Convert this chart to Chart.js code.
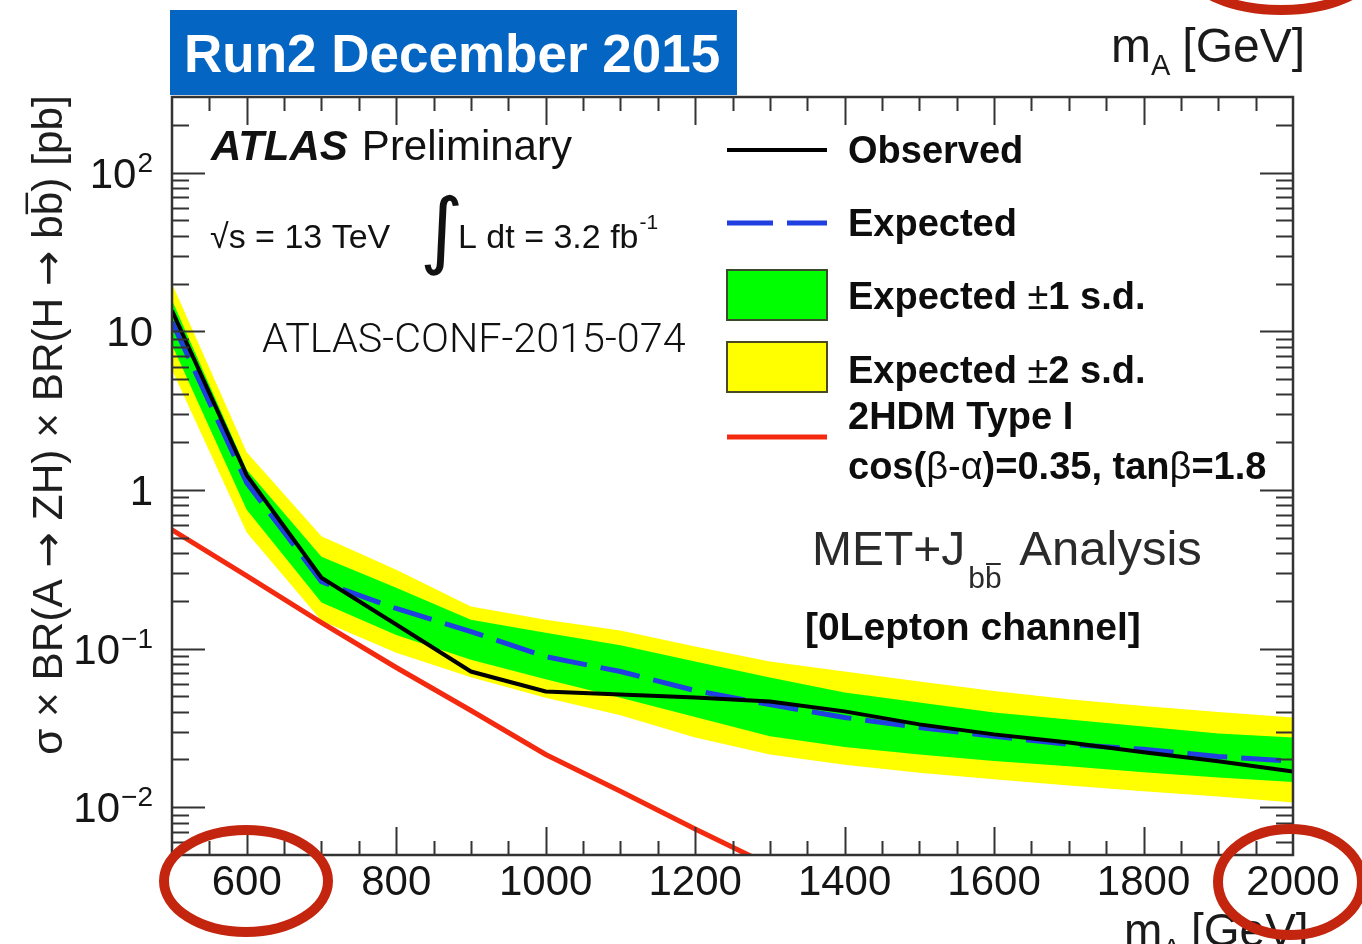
<!DOCTYPE html>
<html>
<head>
<meta charset="utf-8">
<script src="https://cdn.jsdelivr.net/npm/chart.js@4.4.1/dist/chart.umd.min.js"></script>
<style>
  html, body { margin: 0; padding: 0; background: #ffffff; overflow: hidden; }
  canvas { display: block; }
</style>
</head>
<body>
<canvas id="limitChart" width="1362" height="944"></canvas>
<script>
// Mass points of the A boson (GeV) and the 95% CL limits on sigma x BR (pb)
const massPoints    = [500, 600, 700, 800, 900, 1000, 1100, 1200, 1300, 1400, 1500, 1600, 1700, 1800, 1900, 2000];
const observedLimit = [13.5, 1.24, 0.28, 0.142, 0.0717, 0.0537, 0.0514, 0.0492, 0.0464, 0.0402, 0.0333, 0.0288, 0.0256, 0.0222, 0.0195, 0.0168];
const expectedLimit = [11.5, 1.11, 0.264, 0.179, 0.128, 0.089, 0.0717, 0.0544, 0.0444, 0.0368, 0.0318, 0.0280, 0.0249, 0.0232, 0.0209, 0.0195];
const plus1Sigma    = [15.7, 1.34, 0.38, 0.242, 0.152, 0.126, 0.105, 0.083, 0.0657, 0.0529, 0.0457, 0.0396, 0.0357, 0.0323, 0.0292, 0.0275];
const minus1Sigma   = [8.2, 0.75, 0.195, 0.122, 0.085, 0.064, 0.049, 0.037, 0.028, 0.0240, 0.0215, 0.0196, 0.0181, 0.0166, 0.0154, 0.0144];
const plus2Sigma    = [20.0, 1.73, 0.51, 0.314, 0.184, 0.152, 0.130, 0.103, 0.0828, 0.0717, 0.062, 0.054, 0.048, 0.0435, 0.0398, 0.0368];
const minus2Sigma   = [5.7, 0.54, 0.15, 0.094, 0.066, 0.049, 0.038, 0.0275, 0.0215, 0.0185, 0.0165, 0.0150, 0.0137, 0.0126, 0.0117, 0.0107];

// 2HDM Type I prediction, cos(beta-alpha)=0.35, tan(beta)=1.8
const modelMass = [500, 600, 700, 800, 900, 1000, 1100, 1200, 1300];
const modelXsec = [0.56, 0.287, 0.146, 0.076, 0.0407, 0.0215, 0.0126, 0.0073, 0.0043];

// Axis ticks and labels
const xTickValues = [600, 800, 1000, 1200, 1400, 1600, 1800, 2000];
const yTickValues = [0.01, 0.1, 1, 10, 100];
const yTickBase   = ['10', '10', '1', '10', '10'];
const yTickPower  = ['\u22122', '\u22121', '', '', '2'];

const SANS = '"Liberation Sans", Arial, Helvetica, sans-serif';
const ARROW = '"DejaVu Sans", sans-serif';
const C = { obs: '#000000', exp: '#1f3fe0', green: '#00ff00', yellow: '#ffff00', model: '#f32a10', ring: '#c3250e' };

const pts = (xs, ys) => ys.map((v, i) => ({ x: xs[i], y: v }));

// Draw a sequence of text runs with different fonts on one baseline
function runs(ctx, x, y, parts, dry) {
  let cx = x;
  for (const p of parts) {
    ctx.font = p.f;
    if (!dry) ctx.fillText(p.t, cx, y + (p.dy || 0));
    cx += ctx.measureText(p.t).width + (p.gap || 0);
  }
  return cx;
}

const decorations = {
  id: 'decorations',
  afterDatasetsDraw(chart) {
    const { ctx, chartArea: a, scales: { x, y } } = chart;
    ctx.save();
    // inner tick marks on all four sides
    ctx.strokeStyle = '#333333';
    ctx.lineWidth = 2;
    ctx.beginPath();
    for (let m = x.min + 50; m < x.max; m += 50) {
      const px = Math.round(x.getPixelForValue(m)) + 0.5;
      const len = (m % 200 === 0) ? 28 : 14;
      ctx.moveTo(px, a.bottom); ctx.lineTo(px, a.bottom - len);
      ctx.moveTo(px, a.top); ctx.lineTo(px, a.top + len);
    }
    for (let d = -3; d <= 2; d++) {
      for (let k = 1; k <= 9; k++) {
        const v = k * Math.pow(10, d);
        if (v <= y.min || v >= y.max) continue;
        const py = Math.round(y.getPixelForValue(v)) + 0.5;
        const len = (k === 1) ? 33 : 17;
        ctx.moveTo(a.left, py); ctx.lineTo(a.left + len, py);
        ctx.moveTo(a.right, py); ctx.lineTo(a.right - len, py);
      }
    }
    ctx.stroke();
    // frame
    ctx.lineWidth = 2.5;
    ctx.strokeRect(a.left, a.top, a.right - a.left, a.bottom - a.top);

    // y tick labels with exponents
    ctx.fillStyle = '#151515';
    ctx.textBaseline = 'alphabetic';
    ctx.textAlign = 'left';
    yTickValues.forEach((v, i) => {
      const py = y.getPixelForValue(v);
      ctx.font = '42px ' + SANS;
      const wb = ctx.measureText(yTickBase[i]).width;
      ctx.font = '28px ' + SANS;
      const wp = yTickPower[i] ? ctx.measureText(yTickPower[i]).width + 1 : 0;
      const x0 = 153 - wb - wp;
      ctx.font = '42px ' + SANS;
      ctx.fillText(yTickBase[i], x0, py + 15);
      if (yTickPower[i]) {
        ctx.font = '28px ' + SANS;
        ctx.fillText(yTickPower[i], x0 + wb + 1, py - 1);
      }
    });
    ctx.restore();
  },
  afterDraw(chart) {
    const { ctx } = chart;
    ctx.save();
    ctx.textBaseline = 'alphabetic';
    ctx.textAlign = 'left';

    // run label box
    ctx.fillStyle = '#0565c2';
    ctx.fillRect(170, 10, 567, 85);
    ctx.fillStyle = '#ffffff';
    ctx.font = 'bold 53px ' + SANS;
    ctx.fillText('Run2 December 2015', 184, 72);

    // axis title above the frame (top right)
    ctx.fillStyle = '#1a1a1a';
    let e = runs(ctx, 1111, 62, [{ t: 'm', f: '48px ' + SANS }]);
    e = runs(ctx, e, 75, [{ t: 'A', f: '29px ' + SANS }]);
    runs(ctx, e + 12, 62, [{ t: '[GeV]', f: '48px ' + SANS }]);

    // x axis title (bottom right)
    e = runs(ctx, 1124, 946, [{ t: 'm', f: '46px ' + SANS }]);
    e = runs(ctx, e, 958, [{ t: 'A', f: '28px ' + SANS }]);
    runs(ctx, e + 10, 946, [{ t: '[GeV]', f: '46px ' + SANS }]);

    // y axis title, rotated, with b-bar
    ctx.save();
    ctx.translate(62, 425);
    ctx.rotate(-Math.PI / 2);
    ctx.fillStyle = '#1e1e1e';
    const titleParts = fs => [
      { t: '\u03c3 \u00d7 BR(A ', f: fs + 'px ' + SANS },
      { t: '\u2192', f: fs + 'px ' + ARROW },
      { t: ' ZH) \u00d7 BR(H ', f: fs + 'px ' + SANS },
      { t: '\u2192', f: fs + 'px ' + ARROW },
      { t: ' b', f: fs + 'px ' + SANS }
    ];
    let fs = 38;
    ctx.font = fs + 'px ' + SANS;
    const tail = 'b) [pb]';
    let wHead = runs(ctx, 0, 0, titleParts(fs), true);
    ctx.font = fs + 'px ' + SANS;
    let total = wHead + ctx.measureText(tail).width;
    fs = fs * 660 / total;
    const parts = titleParts(fs);
    ctx.font = fs + 'px ' + SANS;
    const wTail = ctx.measureText(tail).width;
    const wb = ctx.measureText('b').width;
    wHead = runs(ctx, 0, 0, parts, true);
    const sx = -(wHead + wTail) / 2;
    const eHead = runs(ctx, sx, 0, parts);
    ctx.font = fs + 'px ' + SANS;
    ctx.fillText(tail, eHead, 0);
    ctx.fillRect(eHead + 1, -fs * 0.86, wb - 2, 2.5);
    ctx.restore();

    // ATLAS label and run conditions
    ctx.fillStyle = '#111111';
    runs(ctx, 211, 160, [
      { t: 'ATLAS', f: 'italic bold 42px ' + SANS, gap: 14 },
      { t: 'Preliminary', f: '42px ' + SANS }
    ]);
    ctx.font = '34px ' + SANS;
    ctx.fillText('\u221as = 13 TeV', 210, 248);
    ctx.font = '84px "DejaVu Sans", sans-serif';
    ctx.fillText('\u222b', 420, 258);
    e = runs(ctx, 458, 248, [{ t: 'L dt = 3.2 fb', f: '34px ' + SANS }]);
    runs(ctx, e + 1, 229, [{ t: '-1', f: '21px ' + SANS }]);

    ctx.font = '300 39px Roboto, ' + SANS;
    const conf = 'ATLAS-CONF-2015-074';
    const cw = ctx.measureText(conf).width;
    ctx.font = '300 ' + (39 * 424 / cw).toFixed(1) + 'px Roboto, ' + SANS;
    ctx.fillText(conf, 262, 352);

    // legend
    const LX0 = 727, LX1 = 827, TX = 848;
    const B = 'bold 38px ' + SANS, R = '38px ' + SANS;
    ctx.lineCap = 'butt';
    ctx.strokeStyle = C.obs; ctx.lineWidth = 4;
    ctx.beginPath(); ctx.moveTo(LX0, 150); ctx.lineTo(LX1, 150); ctx.stroke();
    ctx.strokeStyle = C.exp; ctx.lineWidth = 5; ctx.setLineDash([46, 14]);
    ctx.beginPath(); ctx.moveTo(LX0, 223); ctx.lineTo(LX1, 223); ctx.stroke();
    ctx.setLineDash([]);
    ctx.lineWidth = 2; ctx.strokeStyle = '#3b4a2a';
    ctx.fillStyle = C.green; ctx.fillRect(LX0, 270, 100, 50); ctx.strokeRect(LX0, 270, 100, 50);
    ctx.strokeStyle = '#4a4a20';
    ctx.fillStyle = C.yellow; ctx.fillRect(LX0, 342, 100, 50); ctx.strokeRect(LX0, 342, 100, 50);
    ctx.strokeStyle = C.model; ctx.lineWidth = 5;
    ctx.beginPath(); ctx.moveTo(LX0, 437); ctx.lineTo(LX1, 437); ctx.stroke();

    ctx.fillStyle = '#0d0d0d';
    runs(ctx, TX, 163, [{ t: 'Observed', f: B }]);
    runs(ctx, TX, 236, [{ t: 'Expected', f: B }]);
    runs(ctx, TX, 309, [{ t: 'Expected ', f: B }, { t: '\u00b1', f: R }, { t: '1 s.d.', f: B }]);
    runs(ctx, TX, 383, [{ t: 'Expected ', f: B }, { t: '\u00b1', f: R }, { t: '2 s.d.', f: B }]);
    runs(ctx, TX, 429, [{ t: '2HDM Type I', f: B }]);
    runs(ctx, TX, 479, [
      { t: 'cos(', f: B }, { t: '\u03b2-\u03b1', f: R }, { t: ')=0.35, tan', f: B },
      { t: '\u03b2', f: R }, { t: '=1.8', f: B }
    ]);

    // analysis label
    ctx.fillStyle = '#2a2a2a';
    e = runs(ctx, 812, 565, [{ t: 'MET+J', f: '48px ' + SANS, gap: 3 }]);
    ctx.font = '30px ' + SANS;
    const wbb = ctx.measureText('b').width;
    ctx.fillText('bb', e, 588);
    ctx.fillRect(e + wbb + 1, 563, wbb - 2, 2);
    runs(ctx, e + 2 * wbb + 4, 565, [{ t: ' Analysis', f: '49px ' + SANS }]);
    ctx.fillStyle = '#0d0d0d';
    runs(ctx, 805, 640, [{ t: '[0Lepton channel]', f: 'bold 39px ' + SANS }]);

    // red highlight rings
    ctx.strokeStyle = C.ring;
    ctx.lineWidth = 10;
    ctx.beginPath(); ctx.ellipse(246, 881, 82, 51, 0, 0, 2 * Math.PI); ctx.stroke();
    ctx.beginPath(); ctx.ellipse(1290, 882, 72, 53, 0, 0, 2 * Math.PI); ctx.stroke();
    ctx.beginPath(); ctx.ellipse(1281, -30, 90, 40, 0, 0, 2 * Math.PI); ctx.stroke();
    ctx.restore();
  }
};

const band = (data, color, fill) => ({
  data, borderColor: 'rgba(0,0,0,0)', borderWidth: 0, backgroundColor: color,
  fill, pointRadius: 0, tension: 0
});

new Chart(document.getElementById('limitChart'), {
  type: 'line',
  data: {
    datasets: [
      { label: 'Observed', data: pts(massPoints, observedLimit), borderColor: C.obs, borderWidth: 4, pointRadius: 0, fill: false, tension: 0 },
      { label: 'Expected', data: pts(massPoints, expectedLimit), borderColor: C.exp, borderWidth: 5, borderDash: [40, 14], pointRadius: 0, fill: false, tension: 0 },
      { label: '2HDM Type I', data: pts(modelMass, modelXsec), borderColor: C.model, borderWidth: 5, pointRadius: 0, fill: false, tension: 0 },
      band(pts(massPoints, plus1Sigma), C.green, '+1'),
      band(pts(massPoints, minus1Sigma), C.green, false),
      band(pts(massPoints, plus2Sigma), C.yellow, '+1'),
      band(pts(massPoints, minus2Sigma), C.yellow, false)
    ]
  },
  options: {
    responsive: false,
    animation: false,
    layout: { padding: { top: 97, right: 69, left: 0, bottom: 0 } },
    plugins: { legend: { display: false }, tooltip: { enabled: false }, filler: { drawTime: 'beforeDatasetDraw' } },
    scales: {
      x: {
        type: 'linear', min: 500, max: 2000,
        afterBuildTicks: s => { s.ticks = xTickValues.map(v => ({ value: v })); },
        afterFit: s => { s.height = 89; },
        ticks: { autoSkip: false, maxRotation: 0, padding: 3, color: '#151515', font: { family: SANS, size: 42 }, callback: v => String(v) },
        grid: { display: false, drawTicks: false },
        border: { display: false }
      },
      y: {
        type: 'logarithmic', min: 0.005, max: 300,
        afterFit: s => { s.width = 172; },
        ticks: { display: false },
        grid: { display: false, drawTicks: false },
        border: { display: false }
      }
    }
  },
  plugins: [decorations]
});
</script>
</body>
</html>
